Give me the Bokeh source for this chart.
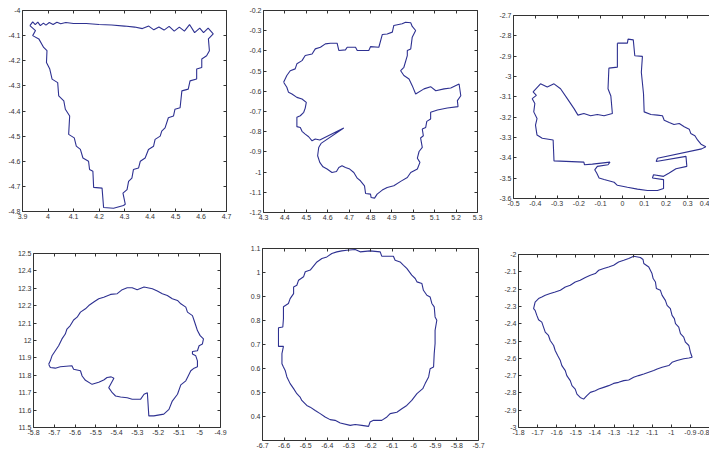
from bokeh.plotting import figure
from bokeh.layouts import row, column
from bokeh.models import Range1d, LinearAxis, FixedTicker, NumeralTickFormatter, CustomLabelingPolicy
from bokeh.embed import file_html
from bokeh.resources import INLINE

# ---------------- data ----------------
# Panel 1 (triangle)
p1_x = [3.929, 3.940, 3.950, 3.960, 3.970, 3.982, 3.992, 4.005, 4.020, 4.035, 4.050, 4.070, 4.100, 4.150,
        4.200, 4.250, 4.300, 4.340, 4.370, 4.395, 4.415, 4.435, 4.455, 4.475, 4.495, 4.515, 4.535, 4.555,
        4.575, 4.595, 4.610, 4.628, 4.648,
        4.629, 4.633, 4.622, 4.603, 4.603, 4.583, 4.583, 4.557, 4.550, 4.525, 4.518, 4.498, 4.492, 4.472,
        4.459, 4.446, 4.440, 4.420, 4.414, 4.394, 4.381, 4.362, 4.355, 4.335, 4.329, 4.316, 4.310, 4.294,
        4.303, 4.296, 4.257, 4.218,
        4.212, 4.179, 4.176, 4.163, 4.159, 4.137, 4.127, 4.111, 4.103, 4.081, 4.085, 4.068, 4.062, 4.042,
        4.038, 4.016, 4.007, 3.994, 3.996, 3.983, 3.964, 3.940, 3.951, 3.929]
p1_y = [-4.060, -4.045, -4.056, -4.046, -4.060, -4.050, -4.058, -4.048, -4.056, -4.047, -4.053, -4.048,
        -4.052, -4.052, -4.056, -4.058, -4.062, -4.066, -4.072, -4.062, -4.077, -4.066, -4.078, -4.063,
        -4.082, -4.066, -4.082, -4.056, -4.088, -4.070, -4.088, -4.070, -4.093,
        -4.113, -4.160, -4.180, -4.193, -4.227, -4.233, -4.273, -4.280, -4.313, -4.320, -4.387, -4.393,
        -4.420, -4.427, -4.467, -4.480, -4.500, -4.513, -4.540, -4.553, -4.587, -4.600, -4.627, -4.633,
        -4.667, -4.680, -4.713, -4.727, -4.771, -4.776, -4.787, -4.784,
        -4.707, -4.704, -4.640, -4.633, -4.600, -4.587, -4.553, -4.540, -4.507, -4.493, -4.420, -4.393,
        -4.360, -4.340, -4.287, -4.273, -4.233, -4.207, -4.160, -4.147, -4.113, -4.100, -4.080, -4.060]
p1_xlim = [3.9, 4.7]
p1_ylim = [-4.8, -4.0]
p1_xticks = [3.9, 4.0, 4.1, 4.2, 4.3, 4.4, 4.5, 4.6, 4.7]
p1_yticks = [-4.8, -4.7, -4.6, -4.5, -4.4, -4.3, -4.2, -4.1, -4.0]

# Panel 2 (irregular blob with spike)
p2_x = [4.394, 4.409, 4.425, 4.448, 4.456, 4.480, 4.495, 4.527, 4.542, 4.566, 4.589, 4.613, 4.644, 4.652,
        4.683, 4.691, 4.730, 4.738, 4.792, 4.800, 4.839, 4.855, 4.878, 4.902, 4.909, 4.948, 4.964, 4.988,
        4.995, 5.011, 4.995, 4.988, 4.972, 4.972, 4.956, 4.941, 4.956, 4.980, 4.995, 5.011, 5.050, 5.081,
        5.105, 5.144, 5.175, 5.214, 5.222, 5.206, 5.209, 5.159, 5.113, 5.081, 5.081, 5.063, 5.058, 5.042,
        5.047, 5.034, 5.042, 5.027, 5.019, 5.031, 5.019, 4.988, 4.972, 4.941, 4.909, 4.878, 4.855, 4.831,
        4.819, 4.803, 4.800, 4.777, 4.772, 4.753, 4.738, 4.722, 4.703, 4.683, 4.667, 4.652, 4.641, 4.620,
        4.597, 4.578, 4.563, 4.553, 4.558, 4.569, 4.675, 4.563, 4.542, 4.527, 4.511, 4.495, 4.480, 4.472,
        4.456, 4.456, 4.472, 4.488, 4.495, 4.500, 4.480, 4.456, 4.433, 4.417, 4.409, 4.394]
p2_y = [-0.555, -0.522, -0.498, -0.489, -0.464, -0.448, -0.423, -0.415, -0.390, -0.382, -0.365, -0.362,
        -0.362, -0.398, -0.395, -0.382, -0.382, -0.398, -0.398, -0.379, -0.382, -0.319, -0.316, -0.307,
        -0.274, -0.266, -0.258, -0.261, -0.279, -0.299, -0.332, -0.390, -0.398, -0.423, -0.481, -0.498,
        -0.522, -0.539, -0.572, -0.613, -0.588, -0.577, -0.597, -0.588, -0.584, -0.564, -0.622, -0.646,
        -0.676, -0.683, -0.693, -0.704, -0.737, -0.749, -0.779, -0.787, -0.820, -0.831, -0.878, -0.898,
        -0.931, -0.952, -0.985, -1.002, -1.027, -1.046, -1.068, -1.076, -1.089, -1.109, -1.129, -1.126,
        -1.109, -1.106, -1.068, -1.043, -1.030, -1.002, -0.985, -0.977, -0.969, -0.977, -0.997, -1.002,
        -0.985, -0.974, -0.952, -0.919, -0.878, -0.858, -0.782, -0.841, -0.836, -0.845, -0.825, -0.812,
        -0.798, -0.779, -0.775, -0.729, -0.721, -0.704, -0.683, -0.655, -0.638, -0.630, -0.613, -0.605,
        -0.580, -0.555]
p2_xlim = [4.3, 5.3]
p2_ylim = [-1.2, -0.2]
p2_xticks = [4.3, 4.4, 4.5, 4.6, 4.7, 4.8, 4.9, 5.0, 5.1, 5.2, 5.3]
p2_yticks = [-1.2, -1.1, -1.0, -0.9, -0.8, -0.7, -0.6, -0.5, -0.4, -0.3, -0.2]

# Panel 3 (room with tower)
p3_x = [-0.023, 0.023, 0.026, 0.050, 0.057, 0.092, 0.087, 0.097, 0.100, 0.131, 0.161, 0.184, 0.192,
        0.215, 0.237, 0.261, 0.284, 0.307, 0.314, 0.333, 0.345, 0.361, 0.383, 0.364, 0.161, 0.155, 0.292,
        0.296, 0.246, 0.215, 0.189, 0.143, 0.138, 0.189, 0.189, 0.161, 0.115, 0.069, 0.023, -0.023, -0.038,
        -0.084, -0.107, -0.118, -0.127, -0.115, -0.066, -0.057, -0.138, -0.174, -0.177, -0.314, -0.318,
        -0.368, -0.392, -0.399, -0.392, -0.407, -0.402, -0.414, -0.395, -0.410, -0.376, -0.345, -0.314,
        -0.284, -0.253, -0.222, -0.204, -0.177, -0.146, -0.115, -0.084, -0.046, -0.053, -0.066, -0.062,
        -0.023, -0.023]
p3_y = [-2.836, -2.836, -2.816, -2.820, -2.898, -2.901, -2.979, -3.085, -3.174, -3.187, -3.190, -3.193,
        -3.215, -3.226, -3.236, -3.231, -3.247, -3.259, -3.280, -3.291, -3.312, -3.333, -3.345, -3.356,
        -3.402, -3.418, -3.393, -3.442, -3.454, -3.475, -3.491, -3.483, -3.499, -3.507, -3.551, -3.561,
        -3.561, -3.554, -3.545, -3.535, -3.520, -3.507, -3.499, -3.475, -3.459, -3.442, -3.434, -3.421,
        -3.431, -3.434, -3.421, -3.415, -3.312, -3.304, -3.288, -3.239, -3.207, -3.174, -3.133, -3.109,
        -3.093, -3.076, -3.036, -3.052, -3.036, -3.060, -3.109, -3.158, -3.190, -3.182, -3.193, -3.187,
        -3.193, -3.182, -3.096, -3.060, -2.959, -2.954, -2.836]
p3_xlim = [-0.5, 0.4]
p3_ylim = [-3.6, -2.7]
p3_xticks = [-0.5, -0.4, -0.3, -0.2, -0.1, 0.0, 0.1, 0.2, 0.3, 0.4]
p3_yticks = [-3.6, -3.5, -3.4, -3.3, -3.2, -3.1, -3.0, -2.9, -2.8, -2.7]

# Panel 4 (brain-like shape)
p4_x = [-5.727, -5.719, -5.711, -5.695, -5.679, -5.663, -5.647, -5.639, -5.623, -5.607, -5.590, -5.574,
        -5.550, -5.534, -5.510, -5.486, -5.462, -5.429, -5.397, -5.373, -5.349, -5.325, -5.301, -5.268,
        -5.228, -5.204, -5.180, -5.156, -5.132, -5.107, -5.091, -5.067, -5.059, -5.035, -5.027, -5.019,
        -5.011, -4.998, -4.982, -4.987, -5.003, -5.011, -5.035, -5.035, -5.019, -5.011, -5.011, -5.027,
        -5.043, -5.059, -5.067, -5.091, -5.107, -5.132, -5.148, -5.173, -5.221, -5.245, -5.252, -5.268,
        -5.285, -5.325, -5.349, -5.381, -5.405, -5.421, -5.438, -5.413, -5.426, -5.446, -5.462, -5.486,
        -5.518, -5.550, -5.566, -5.574, -5.607, -5.615, -5.671, -5.695, -5.719, -5.727]
p4_y = [11.864, 11.883, 11.912, 11.941, 11.970, 12.009, 12.037, 12.066, 12.086, 12.118, 12.134, 12.163,
        12.182, 12.201, 12.221, 12.240, 12.249, 12.265, 12.269, 12.292, 12.303, 12.303, 12.292, 12.307,
        12.297, 12.284, 12.269, 12.259, 12.240, 12.230, 12.211, 12.192, 12.163, 12.143, 12.115, 12.086,
        12.057, 12.028, 12.009, 11.980, 11.970, 11.941, 11.937, 11.922, 11.912, 11.883, 11.849, 11.841,
        11.826, 11.787, 11.768, 11.745, 11.691, 11.652, 11.604, 11.577, 11.567, 11.567, 11.700, 11.691,
        11.662, 11.662, 11.671, 11.675, 11.681, 11.700, 11.729, 11.783, 11.791, 11.787, 11.773, 11.760,
        11.748, 11.771, 11.796, 11.826, 11.835, 11.855, 11.849, 11.841, 11.845, 11.864]
p4_xlim = [-5.8, -4.9]
p4_ylim = [11.5, 12.5]
p4_xticks = [-5.8, -5.7, -5.6, -5.5, -5.4, -5.3, -5.2, -5.1, -5.0, -4.9]
p4_yticks = [11.5, 11.6, 11.7, 11.8, 11.9, 12.0, 12.1, 12.2, 12.3, 12.4, 12.5]

# Panel 5 (circle)
p5_x = [-6.310, -6.271, -6.248, -6.202, -6.155, -6.148, -6.094, -6.086, -6.063, -6.047, -6.032, -6.009,
        -5.993, -5.985, -5.962, -5.955, -5.939, -5.924, -5.916, -5.905, -5.901, -5.893, -5.901, -5.901,
        -5.905, -5.908, -5.924, -5.931, -5.947, -5.958, -5.985, -6.009, -6.032, -6.055, -6.078, -6.109,
        -6.124, -6.148, -6.186, -6.202, -6.209, -6.240, -6.271, -6.294, -6.340, -6.364, -6.387, -6.410,
        -6.433, -6.456, -6.479, -6.495, -6.518, -6.526, -6.541, -6.556, -6.572, -6.587, -6.595, -6.603,
        -6.610, -6.610, -6.603, -6.626, -6.626, -6.606, -6.603, -6.603, -6.580, -6.572, -6.556, -6.556,
        -6.541, -6.533, -6.510, -6.502, -6.479, -6.448, -6.425, -6.402, -6.379, -6.356, -6.333, -6.310]
p5_y = [1.093, 1.096, 1.086, 1.090, 1.086, 1.068, 1.068, 1.051, 1.044, 1.030, 1.017, 0.989, 0.975, 0.961,
        0.954, 0.926, 0.905, 0.898, 0.871, 0.857, 0.815, 0.801, 0.759, 0.704, 0.662, 0.606, 0.599, 0.565,
        0.537, 0.516, 0.495, 0.467, 0.446, 0.432, 0.418, 0.412, 0.398, 0.384, 0.384, 0.377, 0.359, 0.363,
        0.367, 0.363, 0.373, 0.384, 0.387, 0.398, 0.412, 0.425, 0.439, 0.446, 0.467, 0.481, 0.495, 0.516,
        0.537, 0.565, 0.592, 0.606, 0.620, 0.662, 0.692, 0.692, 0.770, 0.773, 0.808, 0.857, 0.871, 0.891,
        0.912, 0.940, 0.947, 0.968, 0.982, 1.003, 1.010, 1.044, 1.058, 1.065, 1.079, 1.086, 1.090, 1.093]
p5_xlim = [-6.7, -5.7]
p5_ylim = [0.3, 1.1]
p5_xticks = [-6.7, -6.6, -6.5, -6.4, -6.3, -6.2, -6.1, -6.0, -5.9, -5.8, -5.7]
p5_yticks = [0.4, 0.5, 0.6, 0.7, 0.8, 0.9, 1.0, 1.1]

# Panel 6 (rotated square)
p6_x = [-1.197, -1.162, -1.148, -1.144, -1.118, -1.101, -1.095, -1.083, -1.078, -1.057, -1.048, -1.031,
        -1.022, -1.005, -0.996, -0.984, -0.978, -0.961, -0.952, -0.935, -0.926, -0.908, -0.900, -0.891,
        -0.908, -0.935, -0.970, -0.996, -1.013, -1.048, -1.074, -1.092, -1.118, -1.144, -1.171, -1.197,
        -1.223, -1.249, -1.276, -1.302, -1.328, -1.354, -1.380, -1.398, -1.424, -1.442, -1.459, -1.477,
        -1.494, -1.503, -1.520, -1.529, -1.547, -1.555, -1.573, -1.581, -1.595, -1.608, -1.616, -1.634,
        -1.643, -1.660, -1.669, -1.678, -1.695, -1.704, -1.713, -1.721, -1.713, -1.695, -1.678, -1.660,
        -1.634, -1.608, -1.581, -1.555, -1.529, -1.503, -1.477, -1.450, -1.424, -1.398, -1.380, -1.354,
        -1.328, -1.302, -1.276, -1.249, -1.223, -1.197]
p6_y = [-2.010, -2.017, -2.029, -2.052, -2.072, -2.110, -2.139, -2.159, -2.197, -2.207, -2.236, -2.265,
        -2.294, -2.313, -2.352, -2.371, -2.400, -2.420, -2.458, -2.478, -2.507, -2.526, -2.565, -2.594,
        -2.598, -2.603, -2.613, -2.623, -2.642, -2.652, -2.662, -2.671, -2.681, -2.691, -2.700, -2.710,
        -2.725, -2.729, -2.739, -2.745, -2.758, -2.768, -2.778, -2.787, -2.797, -2.816, -2.836, -2.826,
        -2.807, -2.778, -2.758, -2.729, -2.700, -2.671, -2.642, -2.613, -2.584, -2.555, -2.526, -2.497,
        -2.468, -2.449, -2.420, -2.391, -2.377, -2.352, -2.323, -2.313, -2.275, -2.255, -2.246, -2.236,
        -2.226, -2.217, -2.207, -2.188, -2.178, -2.159, -2.149, -2.133, -2.120, -2.110, -2.091, -2.081,
        -2.072, -2.062, -2.043, -2.033, -2.023, -2.010]
p6_xlim = [-1.8, -0.8]
p6_ylim = [-3.0, -2.0]
p6_xticks = [-1.8, -1.7, -1.6, -1.5, -1.4, -1.3, -1.2, -1.1, -1.0, -0.9, -0.8]
p6_yticks = [-3.0, -2.9, -2.8, -2.7, -2.6, -2.5, -2.4, -2.3, -2.2, -2.1, -2.0]

# ---------------- styling ----------------
LINE_COLOR = "#2e3191"
AXIS_COLOR = "#333333"
LABEL_COLOR = "#333333"
FONT = "Liberation Sans"
FONT_SIZE = "7px"

NO_LABELS = CustomLabelingPolicy(code="""
for (const i of indices)
    indices.unset(i)
return indices
""")


def style_axis(ax, show_labels=True):
    ax.axis_line_color = AXIS_COLOR
    ax.axis_line_width = 1
    ax.major_tick_line_color = AXIS_COLOR
    ax.major_tick_in = 3
    ax.major_tick_out = 0
    ax.minor_tick_line_color = None
    ax.minor_tick_in = 0
    ax.minor_tick_out = 0
    ax.major_label_text_font = FONT
    ax.major_label_text_color = LABEL_COLOR
    ax.formatter = NumeralTickFormatter(format="0.[0]")
    if show_labels:
        ax.major_label_text_font_size = FONT_SIZE
        ax.major_label_standoff = 2
    else:
        ax.major_label_policy = NO_LABELS
        ax.major_label_text_font_size = "0px"
        ax.major_label_standoff = 0


def panel(xs, ys, xlim, ylim, xticks, yticks, w, h, bl, br, bt, bb, right_axis=True):
    p = figure(width=w, height=h, x_range=Range1d(xlim[0], xlim[1]), y_range=Range1d(ylim[0], ylim[1]),
               output_backend="svg", toolbar_location=None, title=None,
               min_border_left=bl, min_border_right=br, min_border_top=bt, min_border_bottom=bb)
    p.line(xs + xs[:1], ys + ys[:1], line_color=LINE_COLOR, line_width=1.1)
    p.grid.visible = False
    p.outline_line_color = None
    p.background_fill_color = "white"
    p.border_fill_color = "white"
    p.xaxis.ticker = FixedTicker(ticks=xticks)
    p.yaxis.ticker = FixedTicker(ticks=yticks)
    for ax in p.xaxis + p.yaxis:
        style_axis(ax)
    top = LinearAxis(ticker=FixedTicker(ticks=xticks))
    style_axis(top, show_labels=False)
    p.add_layout(top, "above")
    if right_axis:
        rgt = LinearAxis(ticker=FixedTicker(ticks=yticks))
        style_axis(rgt, show_labels=False)
        p.add_layout(rgt, "right")
    return p


f1 = panel(p1_x, p1_y, p1_xlim, p1_ylim, p1_xticks, p1_yticks, 242, 228, 22, 16, 10, 17)
f2 = panel(p2_x, p2_y, p2_xlim, p2_ylim, p2_xticks, p2_yticks, 250, 228, 21, 15, 10, 16)
f3 = panel(p3_x, p3_y, p3_xlim, p3_ylim, p3_xticks, p3_yticks, 217, 228, 21, 0, 15, 30, right_axis=False)
f4 = panel(p4_x, p4_y, p4_xlim, p4_ylim, p4_xticks, p4_yticks, 242, 226, 33, 22, 25, 27)
f5 = panel(p5_x, p5_y, p5_xlim, p5_ylim, p5_xticks, p5_yticks, 250, 226, 20, 14, 20, 14)
f6 = panel(p6_x, p6_y, p6_xlim, p6_ylim, p6_xticks, p6_yticks, 217, 226, 26, 0, 26, 27, right_axis=False)

# each figure wrapped on its own so that frames are not forced into alignment across a row
layout = column(row(column(f1), column(f2), column(f3)), row(column(f4), column(f5), column(f6)))

open("out.html", "w").write(file_html(layout, INLINE))
